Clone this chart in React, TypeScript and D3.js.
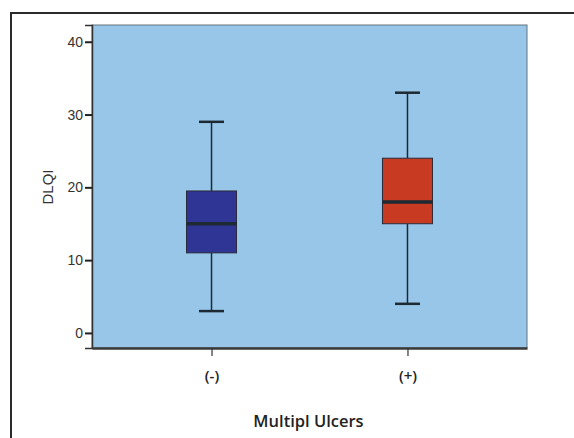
import React, { useEffect, useRef } from 'react';
import * as d3 from 'd3';

const categories = ['(-)', '(+)'];
const whiskerLow = [3, 4];
const q1 = [11, 15];
const median = [15, 18];
const q3 = [19.5, 24];
const whiskerHigh = [29, 33];
const yTicks = [0, 10, 20, 30, 40];
const boxColors = ['#2e3594', '#c93a23'];

export default function App() {
  const ref = useRef<SVGSVGElement>(null);

  useEffect(() => {
    const width = 574;
    const height = 438;
    const plot = { left: 92, top: 25, right: 527, bottom: 348 };

    const svg = d3.select(ref.current);
    svg.selectAll('*').remove();

    svg.append('rect').attr('width', width).attr('height', height).attr('fill', '#fff');

    // outer frame
    svg.append('path')
      .attr('d', `M11,${height} L11,13 L${width},13`)
      .attr('fill', 'none')
      .attr('stroke', '#2a2a2a')
      .attr('stroke-width', 2);

    const y = d3.scaleLinear().domain([-2.07, 42.3]).range([plot.bottom, plot.top]);
    const x = d3.scalePoint<string>()
      .domain(categories)
      .range([plot.left, plot.right])
      .padding(0.61);

    svg.append('rect')
      .attr('x', plot.left)
      .attr('y', plot.top)
      .attr('width', plot.right - plot.left)
      .attr('height', plot.bottom - plot.top)
      .attr('fill', '#97c6e8')
      .attr('stroke', '#66747d')
      .attr('stroke-width', 1);

    // y axis
    const yAxis = svg.append('g')
      .attr('transform', `translate(${plot.left},0)`)
      .call(d3.axisLeft(y).tickValues(yTicks).tickSize(7).tickPadding(2));
    yAxis.select('.domain').attr('stroke', '#333').attr('stroke-width', 1.5);
    yAxis.selectAll('.tick line').attr('stroke', '#222').attr('stroke-width', 2);
    yAxis.selectAll('.tick text')
      .attr('font-family', 'Liberation Sans, Arial, sans-serif')
      .attr('font-size', 14)
      .attr('fill', '#333');

    // x axis
    const xAxis = svg.append('g')
      .attr('transform', `translate(0,${plot.bottom})`)
      .call(d3.axisBottom(x).tickSize(8).tickPadding(14).tickSizeOuter(0));
    xAxis.select('.domain').attr('stroke', '#3a3a3a').attr('stroke-width', 2.5);
    xAxis.selectAll('.tick line').attr('stroke', '#333').attr('stroke-width', 1.2);
    xAxis.selectAll('.tick text')
      .attr('font-family', 'Open Sans, sans-serif')
      .attr('font-weight', 600)
      .attr('font-size', 15)
      .attr('fill', '#222');

    svg.append('text')
      .attr('x', 308.5)
      .attr('y', 427)
      .attr('text-anchor', 'middle')
      .attr('font-family', 'Open Sans, sans-serif')
      .attr('font-weight', 600)
      .attr('font-size', 16.5)
      .attr('fill', '#222')
      .text('Multipl Ulcers');

    svg.append('text')
      .attr('transform', `translate(53,187) rotate(-90)`)
      .attr('text-anchor', 'middle')
      .attr('font-family', 'Liberation Sans, Arial, sans-serif')
      .attr('font-size', 15)
      .attr('fill', '#333')
      .text('DLQI');

    const boxW = 50;
    const capW = 25;
    const g = svg.append('g');
    categories.forEach((c, i) => {
      const cx = x(c)!;
      const line = (x1: number, y1: number, x2: number, y2: number, sw: number) =>
        g.append('line')
          .attr('x1', x1).attr('y1', y1).attr('x2', x2).attr('y2', y2)
          .attr('stroke', '#1e2a33').attr('stroke-width', sw);
      line(cx, y(whiskerHigh[i]), cx, y(q3[i]), 1.5);
      line(cx, y(q1[i]), cx, y(whiskerLow[i]), 1.5);
      line(cx - capW / 2, y(whiskerHigh[i]), cx + capW / 2, y(whiskerHigh[i]), 2.5);
      line(cx - capW / 2, y(whiskerLow[i]), cx + capW / 2, y(whiskerLow[i]), 2.5);
      g.append('rect')
        .attr('x', cx - boxW / 2)
        .attr('y', y(q3[i]))
        .attr('width', boxW)
        .attr('height', y(q1[i]) - y(q3[i]))
        .attr('fill', boxColors[i])
        .attr('stroke', '#2a2a3a')
        .attr('stroke-width', 1);
      line(cx - boxW / 2, y(median[i]), cx + boxW / 2, y(median[i]), 3.5);
    });
  }, []);

  return (
    <svg
      ref={ref}
      width={574}
      height={438}
      style={{ position: 'absolute', left: 0, top: 0, display: 'block' }}
    />
  );
}
